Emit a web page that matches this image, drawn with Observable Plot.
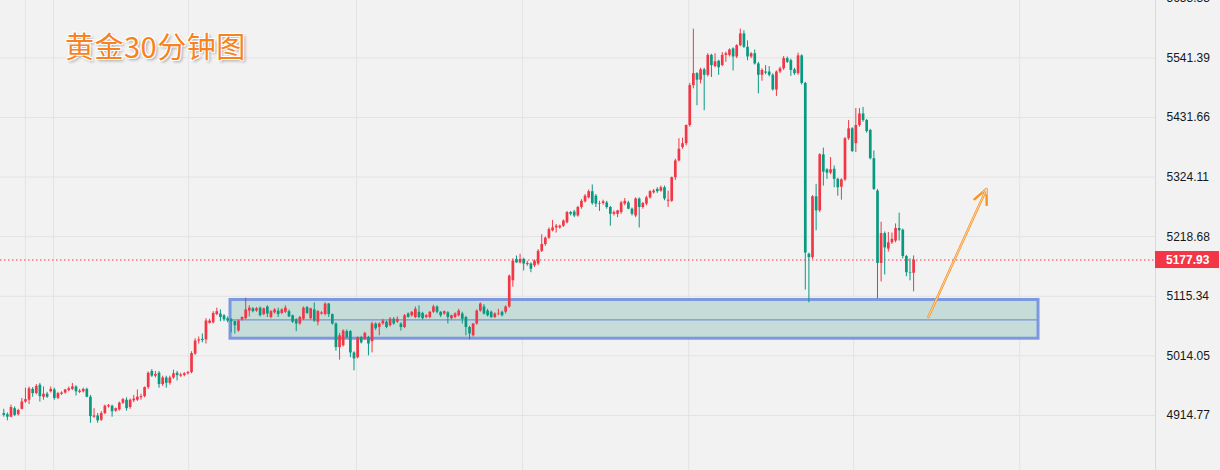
<!DOCTYPE html>
<html><head><meta charset="utf-8">
<script src="https://cdn.jsdelivr.net/npm/d3@7"></script>
<script src="https://cdn.jsdelivr.net/npm/@observablehq/plot@0.6"></script>
<style>
html,body{margin:0;padding:0;background:#f2f2f2;}
#wrap{position:relative;width:1220px;height:470px;overflow:hidden;}
#title{position:absolute;left:65px;top:31px;font-family:"Noto Sans CJK SC";font-size:29px;line-height:1;color:#f7821e;letter-spacing:0.5px;
text-shadow:-1px -1px 0 #fff,1px -1px 0 #fff,-1px 1px 0 #fff,1px 1px 0 #fff,2px 2px 3px rgba(0,0,0,0.35);}
</style></head><body><div id="wrap"><div id="title">黄金30分钟图</div></div>
<script>
// OHLC of the 30-minute gold candles (index 0 = leftmost)
const open = [4918,4916,4912,4926,4916,4925,4937,4940,4958,4951,4965,4945,4950,4954,4957,4943,4950,4952,4956,4958,4962,4953,4954,4958,4945,4912,4914,4907,4918,4929,4930,4922,4924,4935,4940,4928,4939,4940,4944,4946,4961,4988,4980,4985,4966,4977,4968,4977,4985,4980,4981,
4984,4986,5017,5039,5042,5041,5069,5070,5084,5085,5082,5077,5075,5072,5056,5075,5077,5090,5094,5090,5095,5084,5097,5079,5087,5090,5086,5088,5089,5082,5075,5068,5076,5096,5077,5092,5071,5085,5084,5102,5084,5068,5028,5031,5055,5055,5019,5011,5045,5042,
5045,5038,5068,5062,5068,5071,5065,5076,5071,5068,5062,5085,5082,5079,5088,5086,5079,5079,5088,5097,5088,5085,5087,5077,5079,5082,5085,5079,5062,5048,5068,5090,5097,5090,5088,5079,5085,5088,5088,5097,5142,5179,5173,5179,5170,5171,5168,5171,5193,5205,
5216,5229,5234,5234,5237,5243,5261,5262,5255,5270,5280,5287,5298,5290,5276,5277,5278,5270,5258,5258,5261,5276,5278,5267,5255,5285,5270,5276,5287,5296,5302,5299,5305,5281,5281,5323,5353,5377,5384,5417,5490,
5512,5500,5519,5509,5546,5525,5535,5527,5546,5546,5558,5543,5564,5586,5561,5543,5549,5530,5509,5515,5515,5509,5482,5515,5521,5540,5536,5519,5512,5545,5494,
5188,5182,5289,5264,5364,5337,5331,5338,5320,5306,5319,5393,5411,5384,5417,5438,5426,5408,5357,5299,5172,5224,5197,5208,5211,5233,5230,5184,5156,5155];
const high = [4925,4919,4932,4929,4925,4943,4960,4962,4961,4966,4968,4962,4953,4962,4960,4953,4954,4958,4962,4968,4964,4958,4960,4960,4948,4926,4918,4921,4932,4933,4932,4927,4937,4943,4944,4942,4948,4957,4950,4962,4987,4991,4988,4988,4980,4980,4980,4990,4988,4985,4986,
4988,5021,5043,5046,5051,5077,5076,5089,5095,5092,5084,5080,5077,5073,5075,5080,5112,5099,5096,5096,5097,5095,5099,5091,5094,5095,5094,5099,5092,5083,5077,5081,5097,5098,5095,5104,5091,5089,5104,5103,5085,5070,5052,5058,5058,5057,5021,5046,5047,5054,
5047,5071,5070,5070,5076,5073,5079,5079,5080,5070,5084,5087,5089,5097,5099,5088,5084,5089,5100,5099,5089,5090,5089,5083,5087,5093,5088,5081,5064,5069,5092,5104,5101,5093,5090,5087,5093,5090,5099,5152,5180,5185,5188,5181,5176,5173,5178,5196,5222,5218,
5234,5247,5240,5239,5248,5263,5263,5265,5272,5284,5293,5301,5310,5293,5281,5283,5281,5272,5264,5265,5281,5286,5281,5269,5287,5287,5279,5290,5300,5302,5305,5308,5308,5299,5324,5356,5393,5394,5418,5494,5595,
5514,5522,5522,5549,5548,5549,5537,5551,5552,5558,5560,5566,5595,5592,5573,5551,5556,5533,5521,5527,5525,5512,5517,5524,5544,5543,5539,5522,5550,5547,5496,
5190,5291,5311,5366,5376,5339,5359,5344,5322,5321,5395,5426,5413,5448,5448,5450,5428,5410,5371,5302,5244,5227,5226,5225,5241,5260,5232,5186,5180,5185];
const low = [4912,4906,4911,4913,4914,4924,4935,4933,4945,4949,4937,4940,4943,4952,4940,4941,4948,4950,4954,4956,4947,4951,4952,4944,4902,4910,4902,4905,4916,4927,4912,4920,4922,4933,4922,4925,4936,4938,4940,4944,4958,4978,4977,4960,4963,4960,4965,4975,4972,4978,4979,
4982,4984,5015,5034,5036,5034,5068,5068,5082,5072,5072,5070,5053,5051,5054,5073,5075,5080,5087,5088,5080,5082,5079,5077,5085,5079,5084,5086,5079,5069,5055,5066,5074,5084,5075,5071,5065,5083,5082,5079,5066,5022,5007,5029,5043,5011,4989,5009,5034,5040,
5014,5019,5057,5048,5066,5060,5063,5066,5069,5056,5060,5078,5080,5077,5077,5075,5077,5077,5086,5085,5079,5083,5068,5075,5077,5080,5068,5048,5041,5046,5066,5088,5083,5080,5077,5077,5082,5080,5085,5095,5131,5172,5171,5159,5167,5156,5165,5168,5191,5202,
5214,5227,5225,5232,5235,5241,5255,5252,5253,5267,5278,5285,5274,5270,5263,5274,5267,5237,5255,5252,5258,5273,5266,5255,5252,5234,5267,5273,5285,5294,5295,5297,5282,5270,5279,5318,5351,5374,5380,5414,5484,
5453,5493,5444,5506,5505,5523,5509,5525,5533,5543,5517,5540,5562,5559,5536,5540,5528,5475,5498,5510,5506,5480,5470,5512,5518,5531,5507,5509,5509,5491,5126,
5104,5179,5229,5261,5308,5320,5328,5305,5290,5283,5316,5390,5368,5368,5414,5423,5403,5355,5300,5111,5140,5152,5192,5205,5208,5211,5180,5149,5142,5123];
const close = [4915,4912,4928,4915,4923,4937,4941,4959,4951,4963,4946,4950,4945,4958,4943,4951,4952,4957,4959,4962,4954,4955,4958,4945,4913,4914,4906,4918,4930,4931,4921,4926,4935,4941,4926,4940,4942,4945,4946,4961,4985,4980,4983,4966,4977,4968,4977,4984,4981,4982,4984,
4986,5018,5039,5041,5040,5073,5073,5086,5089,5079,5075,5073,5072,5065,5073,5079,5092,5095,5089,5094,5082,5094,5085,5089,5092,5084,5092,5095,5080,5071,5068,5079,5095,5086,5094,5073,5089,5087,5102,5084,5068,5028,5048,5056,5045,5019,5009,5045,5036,5052,
5034,5068,5060,5068,5073,5062,5076,5068,5076,5062,5082,5079,5088,5093,5079,5077,5082,5088,5097,5088,5082,5089,5079,5082,5085,5090,5076,5062,5051,5068,5090,5102,5085,5082,5079,5085,5086,5082,5097,5150,5176,5173,5179,5171,5172,5162,5176,5193,5205,5216,
5231,5234,5237,5237,5246,5261,5258,5255,5270,5281,5290,5298,5277,5276,5277,5280,5270,5258,5261,5264,5278,5281,5267,5258,5285,5270,5277,5287,5298,5299,5298,5305,5285,5283,5323,5353,5374,5384,5417,5490,5512,
5500,5519,5509,5546,5527,5534,5523,5546,5549,5556,5543,5564,5586,5561,5543,5549,5530,5509,5518,5513,5509,5482,5515,5521,5540,5533,5518,5512,5545,5494,5190,
5182,5289,5264,5364,5333,5331,5337,5320,5305,5319,5393,5411,5370,5417,5438,5426,5406,5357,5302,5172,5224,5199,5208,5214,5233,5229,5184,5156,5155,5177.93];

// price axis ticks (log-spaced, as in the source)
const yTicks = [5653.33, 5541.39, 5431.66, 5324.11, 5218.68, 5115.34, 5014.05, 4914.77];
const lastPrice = 5177.93;
// session breaks (in candle index units)
const sessionBreaks = [6, 13.8, 51.2, 97.7, 143.7, 189.7, 235.4, 281.4];
// support zone
const zoneStart = 62.8, zoneEnd = 286.6, zoneTop = 5109, zoneBottom = 5043, zoneMid = 5075;
// projected arrow
const arrowFrom = [256.1, 5080], arrowTo = [272.2, 5303];

const UP = "#f23645", DOWN = "#089981";
const candles = open.map((o, i) => ({i, o, h: high[i], l: low[i], c: close[i], col: close[i] >= o ? UP : DOWN}));

const chart = Plot.plot({
  width: 1220, height: 470,
  marginLeft: 0, marginRight: 65, marginTop: 0, marginBottom: 0,
  style: {background: "#f2f2f2", fontFamily: "Liberation Sans", fontSize: "12px", color: "#131722", overflow: "visible"},
  x: {type: "linear", domain: [-0.91, 319], axis: null},
  y: {type: "log", domain: [4824.9, 5649], axis: "right", ticks: yTicks, tickFormat: d => d.toFixed(2), tickSize: 0, tickPadding: 11, label: null},
  color: {type: "identity"},
  marks: [
    Plot.ruleY(yTicks, {stroke: "#e3e3e3", strokeWidth: 1}),
    Plot.ruleX(sessionBreaks, {stroke: "#e3e3e3", strokeWidth: 1}),
    Plot.rect([0], {x1: () => zoneStart, x2: () => zoneEnd, y1: () => zoneBottom, y2: () => zoneTop, fill: "#c5dcd8", stroke: "#7b98e0", strokeWidth: 3}),
    Plot.ruleY([0], {x1: () => zoneStart, x2: () => zoneEnd, y: () => zoneMid, stroke: "#7a93d6", strokeWidth: 1.3}),
    Plot.ruleY([lastPrice], {stroke: UP, strokeDasharray: "1.5,2.5", strokeWidth: 1}),
    Plot.ruleX(candles, {x: "i", y1: "l", y2: "h", stroke: "col", strokeWidth: 1}),
    Plot.ruleX(candles, {x: "i", y1: "o", y2: "c", stroke: "col", strokeWidth: 2.7}),
    Plot.arrow([0], {x1: () => arrowFrom[0], y1: () => arrowFrom[1], x2: () => arrowTo[0], y2: () => arrowTo[1], stroke: "#f7931e", strokeWidth: 2.4, headLength: 10, headAngle: 50}),
    Plot.arrow([0], {x1: () => arrowFrom[0], y1: () => arrowFrom[1], x2: () => arrowTo[0], y2: () => arrowTo[1], stroke: "#fce6d2", strokeWidth: 0.8, headLength: 10, headAngle: 50})
  ]
});

const svg = d3.select(chart);
const xr = chart.scale("x").range;
svg.append("line").attr("x1", xr[1] + 0.5).attr("x2", xr[1] + 0.5).attr("y1", 0).attr("y2", 470).attr("stroke", "#d9d9d9");
const yy = chart.scale("y").apply(lastPrice);
const tag = svg.append("g");
tag.append("rect").attr("x", xr[1]).attr("y", yy - 8.5).attr("width", 64).attr("height", 17).attr("fill", UP);
tag.append("text").attr("x", xr[1] + 11).attr("y", yy).attr("dy", "0.35em").attr("text-anchor", "start")
  .attr("fill", "#fff").attr("font-weight", "bold").attr("font-size", 12).attr("font-family", "Liberation Sans").text(lastPrice.toFixed(2));

document.getElementById("wrap").prepend(chart);
</script></body></html>
